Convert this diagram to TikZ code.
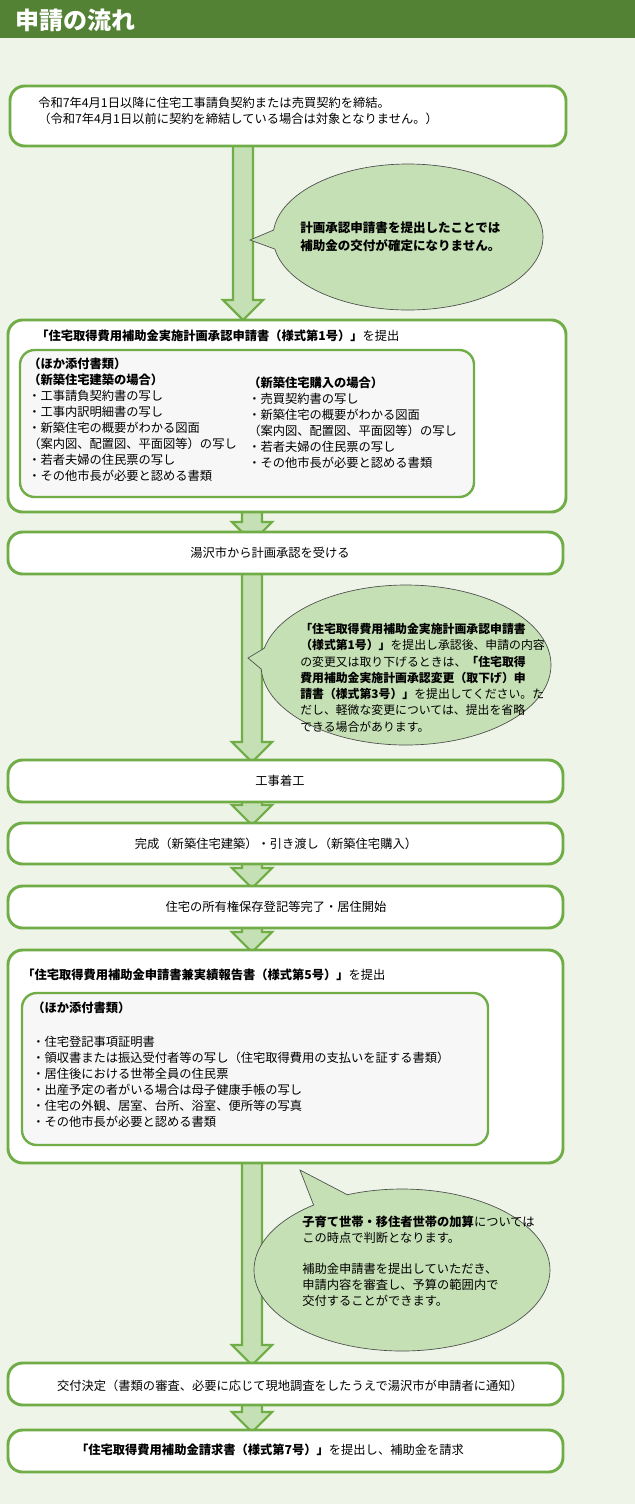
\documentclass[tikz,border=0pt]{standalone}
\usepackage{fontspec}
\setmainfont{Noto Sans CJK JP}
\usetikzlibrary{shapes.callouts}
\definecolor{bgc}{HTML}{EEF5E8}
\definecolor{hdr}{HTML}{548235}
\definecolor{gr}{HTML}{70AD47}
\definecolor{bub}{HTML}{C5E0B4}
\definecolor{inn}{HTML}{F7F7F7}
\tikzset{
 flowbox/.style={draw=gr,line width=2.2pt,fill=white,rounded corners=11pt},
 innerbox/.style={draw=gr,line width=1.8pt,fill=inn,rounded corners=11pt},
 txt/.style={font=\fontsize{9.2}{12}\selectfont,inner sep=0pt,align=left,anchor=west},
 blk/.style={font=\fontsize{9.2}{12}\selectfont,inner sep=0pt,align=left,anchor=north west},
 farrow/.style={draw=gr,line width=1.6pt,fill=bub,line join=miter},
 bubble/.style={ellipse callout,draw=black!70,line width=0.5pt,fill=bub,inner sep=0pt}
}
\newcommand\flowarr[3]{\path[farrow] (#1-10,#2)--(#1+10,#2)--(#1+10,#3-20)--(#1+20,#3-20)--(#1,#3)--(#1-20,#3-20)--(#1-10,#3-20)--cycle;}
\begin{document}
\begin{tikzpicture}[x=0.75pt,y=-0.75pt]
\fill[bgc] (0,0) rectangle (635,1504);
\useasboundingbox (0,0) rectangle (635,1504);
\fill[hdr] (0,0) rectangle (635,38);
\node[anchor=west,text=white,font=\fontsize{18}{20}\selectfont\bfseries,inner sep=0pt] (title) at (15,20) {申請の流れ};

% arrows (behind boxes)
\flowarr{243}{140}{320}
\flowarr{252}{508}{542}
\flowarr{252}{570}{762}
\flowarr{252}{798}{825}
\flowarr{252}{860}{888}
\flowarr{252}{924}{952}
\flowarr{252}{1160}{1365}
\flowarr{252}{1400}{1432}
\coordinate (p1) at (250,240);
\coordinate (p2) at (248,658);
\coordinate (p3) at (300,1170);

% box 1
\draw[flowbox] (10,86) rectangle (566,146);
\node[blk] (t1) at (38,97) {令和7年4月1日以降に住宅工事請負契約または売買契約を締結。\\（令和7年4月1日以前に契約を締結している場合は対象となりません。）};

% bubble 1
\node[bubble,minimum width=270*0.75pt,minimum height=146*0.75pt,callout absolute pointer={(p1)}] (b1) at (408,237) {};
\node[blk,font=\fontsize{9.4}{14}\selectfont\bfseries] (bt1) at (300,221) {計画承認申請書を提出したことでは\\補助金の交付が確定になりません。};

% box 2
\draw[flowbox] (8,320) rectangle (566,512);
\node[txt] (t2) at (36,336) {\textbf{「住宅取得費用補助金実施計画承認申請書（様式第1号）」}を提出};
\draw[innerbox] (20,350) rectangle (474,497);
\node[blk] (t2a) at (28,358) {\textbf{（ほか添付書類）}\\\textbf{（新築住宅建築の場合）}\\・工事請負契約書の写し\\・工事内訳明細書の写し\\・新築住宅の概要がわかる図面\\（案内図、配置図、平面図等）の写し\\・若者夫婦の住民票の写し\\・その他市長が必要と認める書類};
\node[blk] (t2b) at (248,377) {\textbf{（新築住宅購入の場合）}\\・売買契約書の写し\\・新築住宅の概要がわかる図面\\（案内図、配置図、平面図等）の写し\\・若者夫婦の住民票の写し\\・その他市長が必要と認める書類};

% box 3
\draw[flowbox] (8,532) rectangle (563,574);
\node[txt,anchor=center] (t3) at (270,553) {湯沢市から計画承認を受ける};

% bubble 2
\node[bubble,minimum width=290*0.75pt,minimum height=160*0.75pt,callout absolute pointer={(p2)}] (b2) at (406,665) {};
\node[blk,font=\fontsize{8.9}{12.2}\selectfont] (bt2) at (300,623) {\textbf{「住宅取得費用補助金実施計画承認申請書}\\\textbf{（様式第1号）」}を提出し承認後、申請の内容\\の変更又は取り下げるときは、\textbf{「住宅取得}\\\textbf{費用補助金実施計画承認変更（取下げ）申}\\\textbf{請書（様式第3号）」}を提出してください。た\\だし、軽微な変更については、提出を省略\\できる場合があります。};

% box 4-6
\draw[flowbox] (8,760) rectangle (563,802);
\node[txt,anchor=center] (t4) at (280,781) {工事着工};
\draw[flowbox] (8,823) rectangle (563,864);
\node[txt,anchor=center] (t5) at (276,844) {完成（新築住宅建築）・引き渡し（新築住宅購入）};
\draw[flowbox] (8,886) rectangle (563,928);
\node[txt,anchor=center] (t6) at (276,907) {住宅の所有権保存登記等完了・居住開始};

% box 7
\draw[flowbox] (8,950) rectangle (563,1163);
\node[txt] (t7) at (22,975) {\textbf{「住宅取得費用補助金申請書兼実績報告書（様式第5号）」}を提出};
\draw[innerbox] (22,993) rectangle (488,1145);
\node[txt] (t7a) at (32,1008) {\textbf{（ほか添付書類）}};
\node[blk] (t7b) at (32,1036) {・住宅登記事項証明書\\・領収書または振込受付者等の写し（住宅取得費用の支払いを証する書類）\\・居住後における世帯全員の住民票\\・出産予定の者がいる場合は母子健康手帳の写し\\・住宅の外観、居室、台所、浴室、便所等の写真\\・その他市長が必要と認める書類};

% bubble 3
\node[bubble,minimum width=296*0.75pt,minimum height=162*0.75pt,callout absolute pointer={(p3)}] (b3) at (402,1270) {};
\node[blk] (bt3) at (302,1216) {\textbf{子育て世帯・移住者世帯の加算}については\\この時点で判断となります。\\[11pt]補助金申請書を提出していただき、\\申請内容を審査し、予算の範囲内で\\交付することができます。};

% box 8, 9
\draw[flowbox] (8,1363) rectangle (563,1405);
\node[txt,anchor=center] (t8) at (290,1386) {交付決定（書類の審査、必要に応じて現地調査をしたうえで湯沢市が申請者に通知）};
\draw[flowbox] (8,1430) rectangle (563,1472);
\node[txt,anchor=center] (t9) at (270,1450) {\textbf{「住宅取得費用補助金請求書（様式第7号）」}を提出し、補助金を請求};
\end{tikzpicture}
\end{document}
